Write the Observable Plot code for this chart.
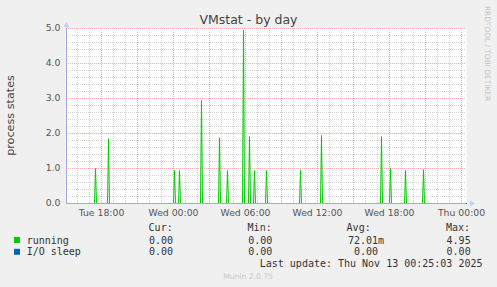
<!DOCTYPE html>
<html><head><meta charset="utf-8">
<script src="https://cdn.jsdelivr.net/npm/d3@7"></script>
<script src="https://cdn.jsdelivr.net/npm/@observablehq/plot@0.6"></script>
<style>
html,body{margin:0;padding:0;background:#f0f0f0;}
#chart{position:relative;width:497px;height:287px;overflow:hidden;}
#chart svg{display:block;}
</style></head><body><div id="chart"></div>
<script>
// ---- data ----
const rangeStart = "2025-11-11T15:05:00Z";
const rangeEnd   = "2025-11-13T00:25:00Z";
const stepMinutes = 5;
const spikeTimes = [
  "2025-11-11T17:30:00Z","2025-11-11T18:35:00Z","2025-11-12T00:05:00Z","2025-11-12T00:30:00Z",
  "2025-11-12T02:20:00Z","2025-11-12T03:50:00Z","2025-11-12T04:30:00Z","2025-11-12T05:50:00Z",
  "2025-11-12T06:20:00Z","2025-11-12T06:45:00Z","2025-11-12T07:45:00Z","2025-11-12T10:35:00Z",
  "2025-11-12T12:20:00Z","2025-11-12T17:20:00Z","2025-11-12T18:05:00Z","2025-11-12T19:20:00Z",
  "2025-11-12T20:50:00Z"
];
const spikeValues = [1.0,1.85,0.94,0.94,2.94,1.88,0.94,4.95,1.91,0.94,0.94,0.96,1.94,1.91,1.0,0.94,0.97];
const ioSleepValues = [0, 0];
const yTicks = [0, 1, 2, 3, 4, 5];
const yMinorTicks = [0.2,0.4,0.6,0.8,1.2,1.4,1.6,1.8,2.2,2.4,2.6,2.8,3.2,3.4,3.6,3.8,4.2,4.4,4.6,4.8];
const xLabelTicks = ["2025-11-11T18:00:00Z","2025-11-12T00:00:00Z","2025-11-12T06:00:00Z",
                     "2025-11-12T12:00:00Z","2025-11-12T18:00:00Z","2025-11-13T00:00:00Z"];
const legendNames  = ["running", "I/O sleep"];
const legendColors = ["#00cc00", "#0066b3"];
const legendHeaders = ["Cur:", "Min:", "Avg:", "Max:"];
const curValues = ["0.00 ", "0.00 "];
const minValues = ["0.00 ", "0.00 "];
const avgValues = ["72.01m", "0.00 "];
const maxValues = ["4.95 ", "0.00 "];
const titleText = "VMstat - by day";
const yLabelText = "process states";
const lastUpdate = "Last update: Thu Nov 13 00:25:03 2025";
const footer = "Munin 2.0.75";
const watermark = "RRDTOOL / TOBI OETIKER";

// ---- build tables ----
const t0 = new Date(rangeStart), t1 = new Date(rangeEnd);
const step = stepMinutes * 60000;
const running = [{t: t0, v: 0}];
spikeTimes.forEach((s, i) => {
  const t = new Date(s);
  running.push({t: new Date(+t - step), v: 0});
  running.push({t, v: spikeValues[i]});
  running.push({t: new Date(+t + step), v: 0});
});
running.push({t: t1, v: 0});
const ioSleep = [{t: t0, v: ioSleepValues[0]}, {t: t1, v: ioSleepValues[1]}];
const hourTicks = d3.utcHour.range(t0, t1);
const majorTicks = d3.utcHour.every(3).range(t0, t1);
const labelTicks = xLabelTicks.map(d => new Date(d));

const axisColor = "#a0a8e0";
const minorGrid = "#d6d6d6";
const majorGrid = "#f2b0b0";
const chart = Plot.plot({
  width: 497, height: 287,
  marginLeft: 66, marginRight: 31, marginTop: 28, marginBottom: 84,
  style: {background: "transparent", fontFamily: "DejaVu Sans", fontSize: "9.3px", color: "#555"},
  x: {type: "utc", domain: [t0, t1]},
  y: {domain: [0, 5]},
  marks: [
    Plot.frame({fill: "white", stroke: "none"}),
    Plot.ruleY(yMinorTicks, {stroke: minorGrid, strokeDasharray: "1,1"}),
    Plot.ruleX(hourTicks, {y1: 0, y2: 5, stroke: minorGrid, strokeDasharray: "1,1"}),
    Plot.ruleY(yTicks.slice(1), {stroke: majorGrid, strokeDasharray: "1,1"}),
    Plot.ruleX(majorTicks, {y1: 0, y2: 5, insetBottom: -3, stroke: majorGrid, strokeDasharray: "1,1"}),
    Plot.line(running, {x: "t", y: "v", stroke: legendColors[0], strokeWidth: 1}),
    Plot.line(ioSleep, {x: "t", y: "v", stroke: legendColors[1], strokeWidth: 1}),
    Plot.ruleY([0], {stroke: axisColor}),
    Plot.ruleX([t0], {y1: 0, y2: 5, stroke: axisColor}),
    Plot.dot([{t: t1, v: 0}], {x: "t", y: "v", symbol: "triangle", r: 2.2, rotate: 90, dx: 5, fill: "#c4ccf8", stroke: "none"}),
    Plot.dot([{t: t0, v: 5}], {x: "t", y: "v", symbol: "triangle", r: 2.2, dy: -3, fill: "#c4ccf8", stroke: "none"}),
    Plot.axisY({ticks: yTicks, tickFormat: d3.format(".1f"), tickSize: 0, tickPadding: 6, label: null}),
    Plot.axisX({ticks: labelTicks, tickFormat: d3.utcFormat("%a %H:%M"), tickSize: 0, tickPadding: 6, label: null})
  ]
});
document.getElementById("chart").appendChild(chart);

// ---- texts around the plot ----
const svg = d3.select(chart);
const g = svg.append("g").attr("text-anchor", "start");
g.append("text").attr("x", 248.5).attr("y", 24).attr("text-anchor", "middle")
  .attr("font-family", "DejaVu Sans").attr("font-size", 12.5).attr("fill", "#444").text(titleText);
g.append("text").attr("transform", "translate(14,115.5) rotate(-90)").attr("text-anchor", "middle")
  .attr("font-family", "DejaVu Sans").attr("font-size", 11.2).attr("fill", "#444").text(yLabelText);
g.append("text").attr("transform", "translate(485.2,53.5) rotate(90)").attr("text-anchor", "middle")
  .attr("font-family", "DejaVu Sans").attr("font-size", 7.4).attr("fill", "#c4c4c4").text(watermark);

const mono = {family: "DejaVu Sans Mono", size: 10, fill: "#333"};
const headerRight = [172.7, 271.7, 370.7, 470];
const colRight = [179, 278.3, 384, 476.7];
legendHeaders.forEach((h, i) => {
  g.append("text").attr("x", headerRight[i]).attr("y", 231).attr("text-anchor", "end")
    .attr("font-family", mono.family).attr("font-size", mono.size).attr("fill", mono.fill).text(h);
});
const cols = [curValues, minValues, avgValues, maxValues];
legendNames.forEach((name, r) => {
  const yb = 243.6 + r * 11.8;
  g.append("rect").attr("x", 14).attr("y", yb - 6.6).attr("width", 6).attr("height", 6)
    .attr("fill", legendColors[r]);
  g.append("text").attr("x", 26.7).attr("y", yb).attr("text-anchor", "start").attr("font-family", mono.family)
    .attr("font-size", mono.size).attr("fill", mono.fill).text(name);
  cols.forEach((c, i) => {
    g.append("text").attr("x", colRight[i]).attr("y", yb).attr("text-anchor", "end")
      .attr("xml:space", "preserve").style("white-space", "pre")
      .attr("font-family", mono.family).attr("font-size", mono.size).attr("fill", mono.fill).text(c[r]);
  });
});
g.append("text").attr("x", 482.5).attr("y", 267).attr("text-anchor", "end")
  .attr("font-family", mono.family).attr("font-size", mono.size).attr("fill", mono.fill).text(lastUpdate);
g.append("text").attr("x", 248).attr("y", 278.8).attr("text-anchor", "middle")
  .attr("font-family", "DejaVu Sans").attr("font-size", 7.6).attr("fill", "#c8c8c8").text(footer);
</script></body></html>
